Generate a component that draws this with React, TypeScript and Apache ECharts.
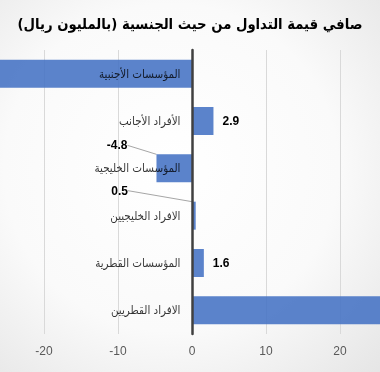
import React, { useEffect, useRef } from "react";
import * as echarts from "echarts";

const titleText = "صافي قيمة التداول من حيث الجنسية (بالمليون ريال)";
const categories = [
  "المؤسسات الأجنبية",
  "الأفراد الأجانب",
  "المؤسسات الخليجية",
  "الافراد الخليجيين",
  "المؤسسات القطرية",
  "الافراد القطريين",
];
const values = [-30.2, 2.9, -4.8, 0.5, 1.6, 30.0];
const showLabel = [false, true, true, true, true, false];
const movedLabel = [false, false, true, true, false, false];
const axisMin = -30;
const axisMax = 30;
const axisStep = 10;

export default function App() {
  const ref = useRef<HTMLDivElement>(null);
  useEffect(() => {
    if (!ref.current) return;
    const chart = echarts.init(ref.current, undefined, { renderer: "svg" });
    const data = values.map((v, i) => ({
      value: v,
      label: { show: showLabel[i] },
      labelLine: movedLabel[i]
        ? { show: true, lineStyle: { color: "#a6a6a6", width: 1 } }
        : { show: false },
    }));
    const nameAnchors = categories.map((c) => [0, c]);
    const option = {
      animation: false,
      backgroundColor: {
        type: "radial",
        x: 0.45,
        y: 0.45,
        r: 0.8,
        colorStops: [
          { offset: 0, color: "#ffffff" },
          { offset: 0.55, color: "#fafafa" },
          { offset: 1, color: "#e4e4e4" },
        ],
      },
      title: {
        text: titleText,
        left: "center",
        top: 11,
        textStyle: {
          fontFamily: "DejaVu Sans Condensed, DejaVu Sans, sans-serif",
          fontSize: 14.7,
          fontWeight: "bold",
          color: "#000000",
        },
      },
      grid: {
        top: 50,
        bottom: 38,
        left: -30,
        right: -34,
        containLabel: false,
        outerBoundsMode: "none",
      },
      xAxis: {
        type: "value",
        min: axisMin,
        max: axisMax,
        interval: axisStep,
        axisLine: { show: false },
        axisTick: { show: false },
        axisLabel: {
          color: "#595959",
          fontSize: 12,
          fontFamily: "Liberation Sans, Arial, sans-serif",
          margin: 11,
          showMinLabel: false,
          showMaxLabel: false,
        },
        splitLine: { show: true, lineStyle: { color: "#d9d9d9", width: 1 } },
      },
      yAxis: {
        type: "category",
        inverse: true,
        data: categories,
        z: 5,
        axisLine: { show: true, onZero: true, lineStyle: { color: "#404040", width: 2.5 } },
        axisTick: { show: false },
        axisLabel: { show: false },
        splitLine: { show: false },
      },
      series: [
        {
          type: "bar",
          data,
          barWidth: 28,
          clip: true,
          itemStyle: { color: "rgba(68,114,196,0.88)" },
          label: {
            position: "right",
            distance: 9,
            color: "#000000",
            fontWeight: "bold",
            fontSize: 12,
            fontFamily: "Liberation Sans, Arial, sans-serif",
          },
          labelLayout: (p: any) => {
            const r = p.rect;
            if (p.dataIndex === 2) {
              const lx = r.x - 29;
              const ly = r.y - 9;
              return {
                x: lx,
                y: ly,
                align: "right",
                verticalAlign: "middle",
                labelLinePoints: [
                  [lx + 8, ly],
                  [lx + 15, ly],
                  [r.x + 1.5, r.y + 16],
                ],
              };
            }
            if (p.dataIndex === 3) {
              const lx = r.x - 64;
              const ly = r.y - 11;
              return {
                x: lx,
                y: ly,
                align: "right",
                verticalAlign: "middle",
                labelLinePoints: [
                  [lx + 5, ly],
                  [lx + 15, ly],
                  [r.x + r.width, r.y + 14],
                ],
              };
            }
            return {};
          },
        },
        {
          type: "scatter",
          data: nameAnchors,
          symbolSize: 1,
          itemStyle: { color: "rgba(0,0,0,0)" },
          silent: true,
          z: 4,
          label: {
            show: true,
            position: "left",
            distance: 11,
            formatter: (p: any) => categories[p.dataIndex],
            color: "#000000",
            fontSize: 11.5,
            fontFamily: "DejaVu Sans Condensed, DejaVu Sans, sans-serif",
          },
        },
      ],
    };
    chart.setOption(option);
    chart.setOption(option);
    return () => chart.dispose();
  }, []);
  return (
    <div
      ref={ref}
      style={{ position: "fixed", left: 0, top: 0, width: 380, height: 372 }}
    />
  );
}
